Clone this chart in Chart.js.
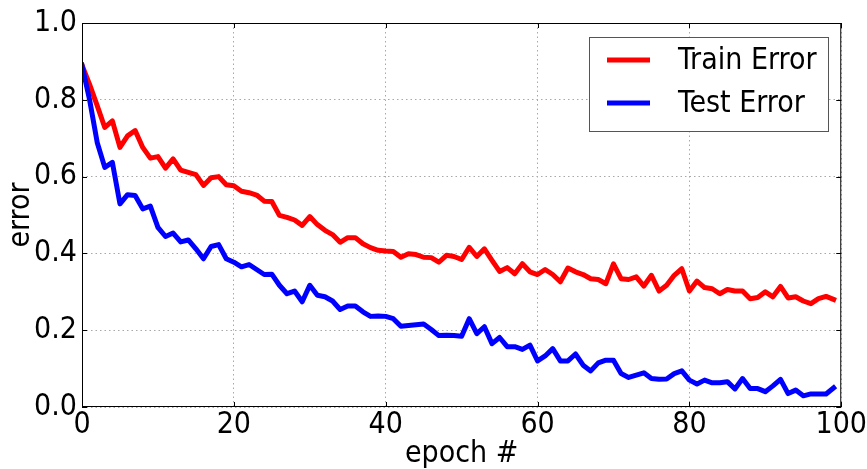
<!DOCTYPE html>
<html>
<head>
<meta charset="utf-8">
<script src="https://cdn.jsdelivr.net/npm/chart.js@4.4.0/dist/chart.umd.min.js"></script>
<style>
  body { margin: 0; background: #fff; }
  canvas { display: block; }
</style>
</head>
<body>
<canvas id="errChart" width="867" height="469"></canvas>
<script>
// epoch index for each recorded point
var epochs = [
  0, 1, 2, 3, 4, 5, 6, 7, 8, 9, 10, 11, 12, 13, 14, 15, 16, 17, 18, 19,
  20, 21, 22, 23, 24, 25, 26, 27, 28, 29, 30, 31, 32, 33, 34, 35, 36, 37, 38, 39,
  40, 41, 42, 43, 44, 45, 46, 47, 48, 49, 50, 51, 52, 53, 54, 55, 56, 57, 58, 59,
  60, 61, 62, 63, 64, 65, 66, 67, 68, 69, 70, 71, 72, 73, 74, 75, 76, 77, 78, 79,
  80, 81, 82, 83, 84, 85, 86, 87, 88, 89, 90, 91, 92, 93, 94, 95, 96, 97, 98, 99
];

var trainError = [
  0.89, 0.84, 0.785, 0.728, 0.745, 0.676, 0.706, 0.72, 0.676, 0.648,
  0.652, 0.622, 0.646, 0.617, 0.611, 0.605, 0.577, 0.597, 0.6, 0.579,
  0.576, 0.562, 0.558, 0.552, 0.536, 0.535, 0.499, 0.494, 0.487, 0.473,
  0.496, 0.475, 0.46, 0.449, 0.429, 0.441, 0.441, 0.425, 0.415, 0.408,
  0.406, 0.405, 0.39, 0.399, 0.397, 0.39, 0.389, 0.377, 0.395, 0.392,
  0.384, 0.416, 0.392, 0.412, 0.382, 0.353, 0.363, 0.347, 0.373, 0.352,
  0.345, 0.358, 0.345, 0.326, 0.362, 0.352, 0.345, 0.334, 0.332, 0.321,
  0.373, 0.334, 0.332, 0.339, 0.315, 0.343, 0.302, 0.317, 0.343, 0.36,
  0.302, 0.328, 0.311, 0.308, 0.295, 0.306, 0.302, 0.302, 0.282, 0.285,
  0.3, 0.287, 0.314, 0.284, 0.287, 0.276, 0.269, 0.282, 0.288, 0.28
];

var testError = [
  0.89, 0.80, 0.689, 0.624, 0.637, 0.529, 0.553, 0.551, 0.516, 0.523,
  0.468, 0.444, 0.453, 0.43, 0.435, 0.412, 0.386, 0.418, 0.423, 0.386,
  0.377, 0.365, 0.371, 0.358, 0.345, 0.346, 0.317, 0.295, 0.302, 0.274,
  0.317, 0.291, 0.287, 0.276, 0.254, 0.263, 0.263, 0.248, 0.236, 0.237,
  0.236, 0.23, 0.21, 0.212, 0.214, 0.216, 0.202, 0.186, 0.187, 0.186,
  0.184, 0.23, 0.191, 0.209, 0.165, 0.181, 0.157, 0.157, 0.15, 0.161,
  0.12, 0.133, 0.152, 0.12, 0.12, 0.138, 0.109, 0.094, 0.115, 0.122,
  0.122, 0.087, 0.077, 0.083, 0.089, 0.074, 0.072, 0.073, 0.087, 0.094,
  0.07, 0.06, 0.07, 0.063, 0.063, 0.066, 0.047, 0.074, 0.048, 0.048,
  0.04, 0.055, 0.072, 0.035, 0.044, 0.029, 0.034, 0.034, 0.034, 0.05
];

var xTicks = [0, 20, 40, 60, 80, 100];
var yTicks = [0.0, 0.2, 0.4, 0.6, 0.8, 1.0];

var FONT = '"DejaVu Sans Condensed", "DejaVu Sans", sans-serif';
var FONT_SIZE = 30;

function pairs(xs, ys) {
  return xs.map(function (x, i) { return { x: x, y: ys[i] }; });
}

// frame round the plot, inward tick marks, and a boxed legend top right
var framePlugin = {
  id: 'frame',
  afterDraw: function (chart) {
    var c = chart.ctx, a = chart.chartArea;
    var xs = chart.scales.x, ys = chart.scales.y;
    c.save();
    c.strokeStyle = '#000';
    c.lineWidth = 1;
    c.strokeRect(a.left + 0.5, a.top + 0.5, a.right - a.left - 1, a.bottom - a.top - 1);
    c.beginPath();
    xTicks.forEach(function (v) {
      var px = Math.round(xs.getPixelForValue(v)) + 0.5;
      c.moveTo(px, a.bottom); c.lineTo(px, a.bottom - 5);
      c.moveTo(px, a.top); c.lineTo(px, a.top + 5);
    });
    yTicks.forEach(function (v) {
      var py = Math.round(ys.getPixelForValue(v)) + 0.5;
      c.moveTo(a.left, py); c.lineTo(a.left + 5, py);
      c.moveTo(a.right, py); c.lineTo(a.right - 5, py);
    });
    c.stroke();

    // legend
    c.fillStyle = '#fff';
    c.fillRect(589, 37, 239, 94);
    c.strokeStyle = '#555';
    c.strokeRect(589.5, 37.5, 239, 94);
    var rows = [60, 103];
    chart.data.datasets.forEach(function (ds, i) {
      c.strokeStyle = ds.borderColor;
      c.lineWidth = 5;
      c.beginPath();
      c.moveTo(607, rows[i]); c.lineTo(650, rows[i]);
      c.stroke();
      c.fillStyle = '#000';
      c.font = FONT_SIZE + 'px ' + FONT;
      c.textBaseline = 'middle';
      c.fillText(ds.label, 678, rows[i] + 1);
    });
    c.restore();
  }
};

new Chart(document.getElementById('errChart').getContext('2d'), {
  type: 'line',
  data: {
    datasets: [
      {
        label: 'Train Error',
        data: pairs(epochs, trainError),
        borderColor: '#ff0000',
        borderWidth: 5,
        pointRadius: 0,
        tension: 0,
        borderJoinStyle: 'round',
        borderCapStyle: 'square',
        order: 2
      },
      {
        label: 'Test Error',
        data: pairs(epochs, testError),
        borderColor: '#0000ff',
        borderWidth: 5,
        pointRadius: 0,
        tension: 0,
        borderJoinStyle: 'round',
        borderCapStyle: 'square',
        order: 1
      }
    ]
  },
  options: {
    responsive: false,
    animation: false,
    layout: { padding: { top: 22, right: 25, left: 0, bottom: 0 } },
    plugins: {
      legend: { display: false },
      tooltip: { enabled: false }
    },
    scales: {
      x: {
        type: 'linear',
        min: 0,
        max: 100,
        afterFit: function (s) { s.height = 62; },
        afterBuildTicks: function (s) { s.ticks = xTicks.map(function (v) { return { value: v }; }); },
        grid: { color: '#a8a8a8', drawTicks: false, lineWidth: 1 },
        border: { display: false, dash: [1.5, 3] },
        ticks: { color: '#000', font: { family: FONT, size: FONT_SIZE }, padding: 0, maxRotation: 0 },
        title: { display: true, text: 'epoch #', color: '#000', font: { family: FONT, size: FONT_SIZE }, padding: { top: 0, bottom: -3 } }
      },
      y: {
        min: 0,
        max: 1,
        afterFit: function (s) { s.width = 82; },
        afterBuildTicks: function (s) { s.ticks = yTicks.map(function (v) { return { value: v }; }); },
        grid: { color: '#a8a8a8', drawTicks: false, lineWidth: 1 },
        border: { display: false, dash: [1.5, 3] },
        ticks: {
          color: '#000',
          font: { family: FONT, size: FONT_SIZE },
          padding: 5,
          callback: function (v) { return v.toFixed(1); }
        },
        title: { display: true, text: 'error', color: '#000', font: { family: FONT, size: FONT_SIZE }, padding: { top: 3, bottom: 0 } }
      }
    }
  },
  plugins: [framePlugin]
});
</script>
</body>
</html>
